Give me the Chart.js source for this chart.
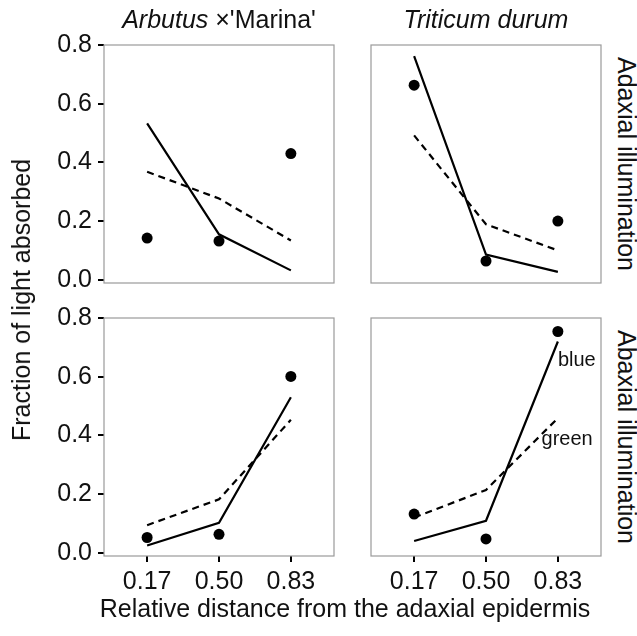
<!DOCTYPE html>
<html>
<head>
<meta charset="utf-8">
<script src="https://cdn.jsdelivr.net/npm/chart.js@4"></script>
<style>
  body { margin: 0; background: #fff; width: 637px; height: 636px; position: relative; overflow: hidden;
         font-family: "Liberation Sans", Arial, sans-serif; color: #111; }
  canvas { position: absolute; }
  .lbl { position: absolute; white-space: nowrap; font-size: 25px; line-height: 25px; }
  .strip { top: 7px; transform: translateX(-50%); }
  .side { transform-origin: 0 0; transform: rotate(90deg) translateX(-50%); }
</style>
</head>
<body>
<canvas id="chart-tl" width="306" height="264" style="left:34px;top:25px"></canvas>
<canvas id="chart-tr" width="262" height="264" style="left:345px;top:25px"></canvas>
<canvas id="chart-bl" width="306" height="308" style="left:34px;top:298px"></canvas>
<canvas id="chart-br" width="262" height="308" style="left:345px;top:298px"></canvas>

<div class="lbl strip" style="left:219px"><i>Arbutus</i> ×'Marina'</div>
<div class="lbl strip" style="left:486px"><i>Triticum durum</i></div>
<div class="lbl side" style="left:639px;top:164px">Adaxial illumination</div>
<div class="lbl side" style="left:639px;top:437px">Abaxial illumination</div>
<div class="lbl" style="left:9px;top:300px;transform-origin:0 0;transform:rotate(-90deg) translateX(-50%)">Fraction of light absorbed</div>
<div class="lbl" style="left:345px;top:596px;transform:translateX(-50%)">Relative distance from the adaxial epidermis</div>

<script>
// Données : distance relative depuis l'épiderme adaxial
const distance = [0.17, 0.50, 0.83];
const yTicks = [0.0, 0.2, 0.4, 0.6, 0.8];

// Arbutus, illumination adaxiale
const arbutusAdaxialMeasured = [0.142, 0.132, 0.430];
const arbutusAdaxialBlue = [0.533, 0.155, 0.032];
const arbutusAdaxialGreen = [0.368, 0.277, 0.134];

// Triticum, illumination adaxiale
const triticumAdaxialMeasured = [0.663, 0.064, 0.200];
const triticumAdaxialBlue = [0.762, 0.086, 0.027];
const triticumAdaxialGreen = [0.492, 0.189, 0.100];

// Arbutus, illumination abaxiale
const arbutusAbaxialMeasured = [0.052, 0.063, 0.601];
const arbutusAbaxialBlue = [0.025, 0.102, 0.530];
const arbutusAbaxialGreen = [0.094, 0.182, 0.453];

// Triticum, illumination abaxiale
const triticumAbaxialMeasured = [0.132, 0.047, 0.754];
const triticumAbaxialBlue = [0.040, 0.109, 0.720];
const triticumAbaxialGreen = [0.120, 0.214, 0.459];

// Étiquettes des courbes (panneau en bas à droite)
const curveLabels = [
    { text: 'blue', x: 0.83, y: 0.655 },
    { text: 'green', x: 0.755, y: 0.385 }
];

const FONT = '"Liberation Sans", Arial, sans-serif';
const step = distance[1] - distance[0];
const xMin = distance[0] - 0.6 * step;
const xMax = distance[distance.length - 1] + 0.6 * step;

const toPoints = values => distance.map((x, i) => ({ x: x, y: values[i] }));

// Cadre gris du panneau
const panelBox = {
    id: 'panelBox',
    beforeDatasetsDraw(chart) {
        const a = chart.chartArea;
        const ctx = chart.ctx;
        ctx.save();
        ctx.strokeStyle = '#9a9a9a';
        ctx.lineWidth = 1.2;
        ctx.strokeRect(a.left, a.top, a.right - a.left, a.bottom - a.top);
        ctx.restore();
    }
};

// Texte "blue" / "green"
const curveText = {
    id: 'curveText',
    afterDatasetsDraw(chart, args, opts) {
        if (!opts.show) return;
        const ctx = chart.ctx;
        ctx.save();
        ctx.fillStyle = '#111';
        ctx.font = '20px ' + FONT;
        ctx.textAlign = 'left';
        ctx.textBaseline = 'middle';
        curveLabels.forEach(l => {
            ctx.fillText(l.text, chart.scales.x.getPixelForValue(l.x), chart.scales.y.getPixelForValue(l.y));
        });
        ctx.restore();
    }
};

function makePanel(canvasId, measured, blue, green, opt) {
    const ctx = document.getElementById(canvasId);
    return new Chart(ctx, {
        type: 'line',
        data: {
            datasets: [
                {
                    data: toPoints(measured),
                    showLine: false,
                    pointRadius: 5.5,
                    pointBackgroundColor: '#000',
                    pointBorderWidth: 0
                },
                {
                    data: toPoints(blue),
                    borderColor: '#000',
                    borderWidth: 2.2,
                    pointRadius: 0,
                    tension: 0
                },
                {
                    data: toPoints(green),
                    borderColor: '#000',
                    borderWidth: 2.2,
                    borderDash: [7, 5],
                    pointRadius: 0,
                    tension: 0
                }
            ]
        },
        options: {
            responsive: false,
            devicePixelRatio: 1,
            animation: false,
            layout: {
                padding: {
                    left: opt.showY ? 0 : 26,
                    top: 20,
                    right: 6,
                    bottom: opt.showX ? 0 : 6
                }
            },
            plugins: {
                legend: { display: false },
                tooltip: { enabled: false },
                curveText: { show: !!opt.labels }
            },
            scales: {
                x: {
                    type: 'linear',
                    display: opt.showX,
                    min: xMin,
                    max: xMax,
                    afterBuildTicks: scale => {
                        scale.ticks = distance.map(v => ({ value: v }));
                    },
                    afterFit: scale => {
                        if (opt.showX) scale.height = 50;
                        scale.paddingLeft = 0;
                        scale.paddingRight = 0;
                    },
                    border: { display: false },
                    grid: {
                        drawOnChartArea: false,
                        drawTicks: true,
                        tickLength: 6,
                        color: '#000',
                        lineWidth: 2
                    },
                    ticks: {
                        padding: 5,
                        color: '#111',
                        maxRotation: 0,
                        autoSkip: false,
                        font: { family: FONT, size: 25 },
                        callback: v => Number(v).toFixed(2)
                    }
                },
                y: {
                    display: opt.showY,
                    min: -0.011,
                    max: 0.8,
                    afterBuildTicks: scale => {
                        scale.ticks = yTicks.map(v => ({ value: v }));
                    },
                    afterFit: scale => {
                        if (opt.showY) scale.width = 70;
                        scale.paddingTop = 0;
                        scale.paddingBottom = 0;
                    },
                    border: { display: false },
                    grid: {
                        drawOnChartArea: false,
                        drawTicks: true,
                        tickLength: 6,
                        color: '#000',
                        lineWidth: 2
                    },
                    ticks: {
                        padding: 6,
                        color: '#111',
                        font: { family: FONT, size: 25 },
                        callback: v => Number(v).toFixed(1)
                    }
                }
            }
        },
        plugins: [panelBox, curveText]
    });
}

makePanel('chart-tl', arbutusAdaxialMeasured, arbutusAdaxialBlue, arbutusAdaxialGreen, { showY: true, showX: false });
makePanel('chart-tr', triticumAdaxialMeasured, triticumAdaxialBlue, triticumAdaxialGreen, { showY: false, showX: false });
makePanel('chart-bl', arbutusAbaxialMeasured, arbutusAbaxialBlue, arbutusAbaxialGreen, { showY: true, showX: true });
makePanel('chart-br', triticumAbaxialMeasured, triticumAbaxialBlue, triticumAbaxialGreen, { showY: false, showX: true, labels: true });
</script>
</body>
</html>
